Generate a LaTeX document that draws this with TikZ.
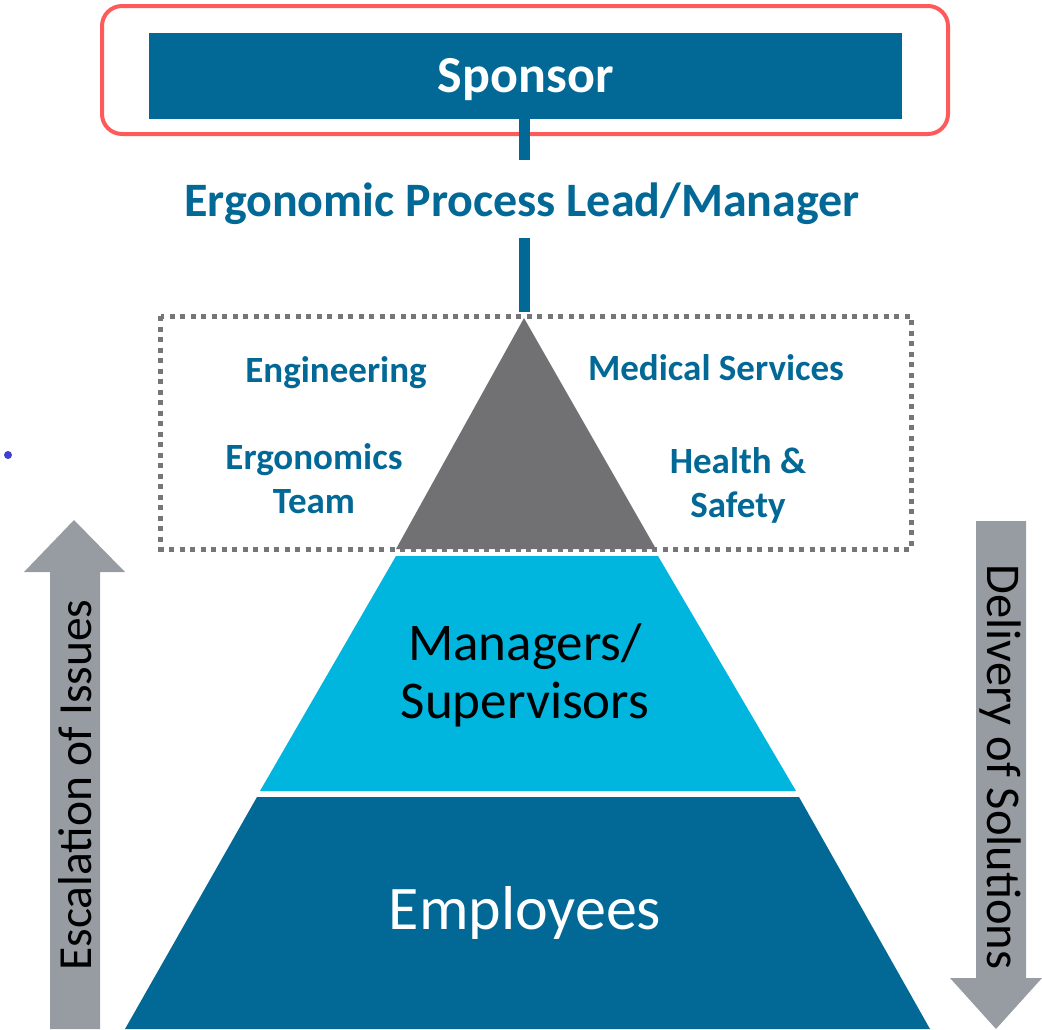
\documentclass[tikz,border=0pt]{standalone}
\usepackage{fontspec}
\setmainfont{Carlito}
\definecolor{dblue}{RGB}{2,104,150}
\definecolor{lblue}{RGB}{0,181,222}
\definecolor{tgray}{RGB}{113,113,116}
\definecolor{agray}{RGB}{151,156,162}
\definecolor{redline}{RGB}{255,90,90}
\definecolor{dotgray}{RGB}{118,118,120}
\definecolor{dotblue}{RGB}{63,63,208}
\tikzset{
  conn/.style={draw=dblue, line width=11pt},
  boxlabel/.style={text=dblue, font=\bfseries\fontsize{37}{44}\selectfont, align=center, inner sep=0pt},
  arrowlabel/.style={text=black, inner sep=0pt}
}
\begin{document}
\begin{tikzpicture}[x=1pt,y=-1pt]
\useasboundingbox (0,0) rectangle (1042,1029);
% red frame
\draw[redline, line width=4pt, rounded corners=20pt] (102,6) rectangle (948,134);
% sponsor
\node[fill=dblue, minimum width=753pt, minimum height=86pt, inner sep=0pt, anchor=north west,
  text=white, font=\bfseries\fontsize{52}{60}\selectfont, yshift=0pt] (sponsor) at (149,33) {};
\node[text=white, font=\bfseries\fontsize{52}{60}\selectfont, inner sep=0pt] (sponsortext) at ([yshift=-3pt]sponsor.center) {Sponsor};
% lead
\node[text=dblue, font=\bfseries\fontsize{48}{56}\selectfont, inner sep=0pt, minimum height=78pt] (lead) at (522,204) {Ergonomic Process Lead/Manager};
\coordinate (apex) at (524,318);
\draw[conn] (sponsor.south -| apex) ++(0.5,0) -- ++(0,41);
\draw[conn] (524.5,238) -- (524.5,312);
% dotted box
\draw[dotgray, line width=5pt, dash pattern=on 5pt off 5.5pt] (160.5,316) rectangle (911,549);
% gray triangle
\fill[tgray] (apex) -- (656,549) -- (396,549) -- cycle;
% labels
\node[boxlabel] (eng) at (336,373) {Engineering};
\node[boxlabel] (med) at (716,368) {Medical Services};
\node[boxlabel] (ergo) at (314,479) {Ergonomics\\Team};
\node[boxlabel] (hs) at (738,485) {Health \&\\Safety};
% pyramid
\fill[lblue] (396,556) -- (658,556) -- (796,791) -- (260,791) -- cycle;
\fill[dblue] (257,797) -- (799,797) -- (930,1029) -- (125,1029) -- cycle;
\node[font=\fontsize{53}{58}\selectfont, align=center, inner sep=0pt] (mgr) at (525,675) {Managers/\\Supervisors};
\node[text=white, font=\fontsize{62}{70}\selectfont, inner sep=0pt] (emp) at (525,913) {Employees};
% arrows
\fill[agray] (50,1029) -- (50,572) -- (24,572) -- (74,520) -- (125,572) -- (100,572) -- (100,1029) -- cycle;
\fill[agray] (976,521) -- (1026,521) -- (1026,978) -- (1042,978) -- (996,1029) -- (950,978) -- (976,978) -- cycle;
\node[arrowlabel, rotate=90, font=\fontsize{47.5}{52}\selectfont] (esc) at (75,785) {Escalation of Issues};
\node[arrowlabel, rotate=-90, font=\fontsize{48.5}{52}\selectfont] (del) at (1000,767) {Delivery of Solutions};
% dot
\fill[dotblue] (8,455) circle (4pt);
\end{tikzpicture}
\end{document}
